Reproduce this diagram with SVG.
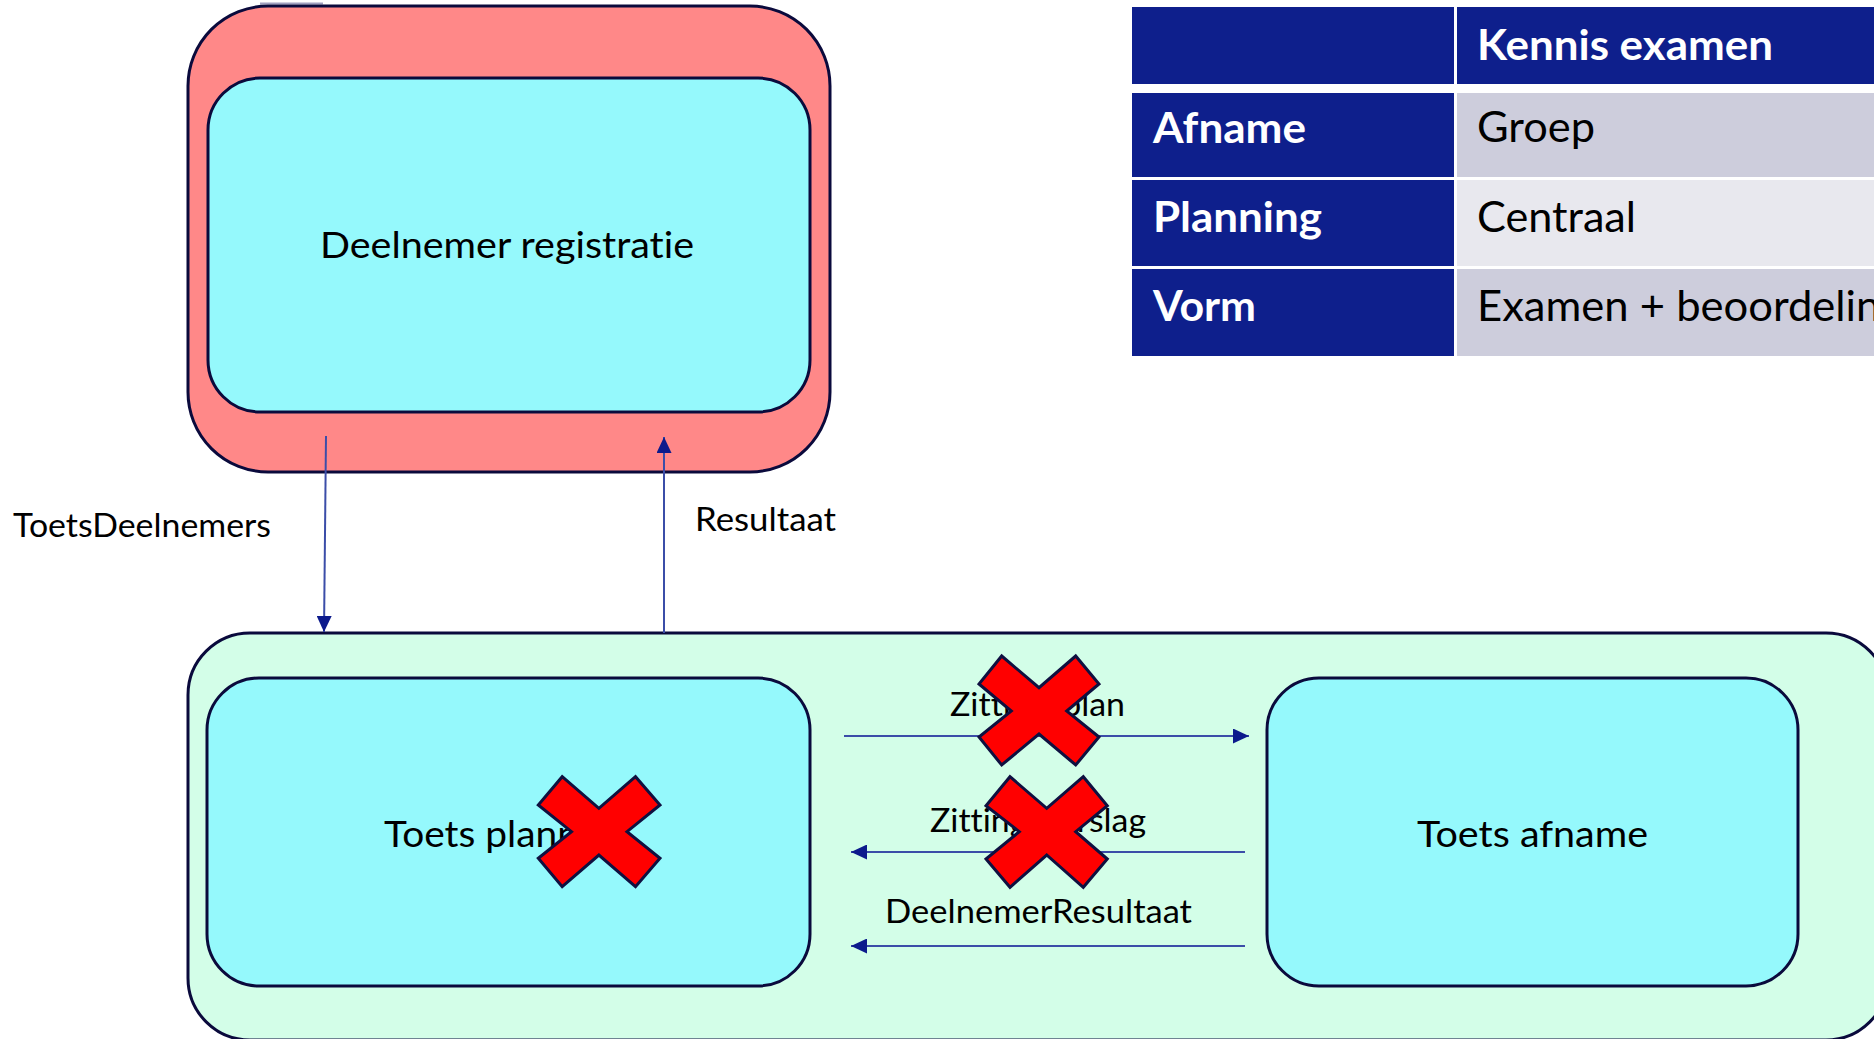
<svg xmlns="http://www.w3.org/2000/svg" width="1874" height="1039" viewBox="0 0 1874 1039">
<style>
text{font-variant-ligatures:none;font-feature-settings:"liga" 0,"clig" 0}
.outerR{fill:#FF8888;stroke:#0A0A3C;stroke-width:3}
.outerG{fill:#D3FEE8;stroke:#0A0A3C;stroke-width:3}
.inner{fill:#95F9FC;stroke:#0A0A3C;stroke-width:3}
.node{font-family:Lato,"Open Sans",sans-serif;font-size:36px;fill:#000}
.lbl{font-family:Lato,"Open Sans",sans-serif;font-size:32px;fill:#000}
.conn{stroke:#3B4DA8;stroke-width:2;fill:none}
.cross{fill:#FF0000;stroke:#0F1040;stroke-width:3;stroke-linejoin:miter}
.th{fill:#0E1F8C}
.tb{font-family:Lato,"Open Sans",sans-serif;font-size:42px;font-weight:bold;fill:#fff}
.tr{font-family:Lato,"Open Sans",sans-serif;font-size:42px;fill:#000}
</style>
<defs>
<marker id="ah" viewBox="0 0 16 15" refX="16" refY="7.5" markerWidth="16" markerHeight="15" markerUnits="userSpaceOnUse" orient="auto">
<path d="M0,0 L16,7.5 L0,15 Z" fill="#0C1A8C"/>
</marker>
</defs>
<rect width="1874" height="1039" fill="#fff"/>
<line x1="260" y1="3.5" x2="323" y2="3.5" stroke="#A0A0C0" stroke-width="2"/>

<g id="deelnemer-registratie-container">
<rect class="outerR" x="188" y="6" width="642" height="466" rx="80" ry="80"/>
</g>
<g id="deelnemer-registratie">
<rect class="inner" x="208" y="78" width="602" height="334" rx="52" ry="52"/>
<text class="node" x="320" y="258" textLength="374" lengthAdjust="spacingAndGlyphs">Deelnemer registratie</text>
</g>

<g id="toets-container">
<rect class="outerG" x="188" y="633" width="1700" height="407" rx="62" ry="62"/>
</g>
<g id="toets-planning">
<rect class="inner" x="207" y="678" width="603" height="308" rx="52" ry="52"/>
<text class="node" x="384" y="847" textLength="246" lengthAdjust="spacingAndGlyphs">Toets planning</text>
</g>
<g id="toets-afname">
<rect class="inner" x="1267" y="678" width="531" height="308" rx="52" ry="52"/>
<text class="node" x="1417" y="847" textLength="231" lengthAdjust="spacingAndGlyphs">Toets afname</text>
</g>

<g id="connectors">
<line class="conn" x1="326" y1="436" x2="324" y2="632" marker-end="url(#ah)"/>
<line class="conn" x1="664" y1="633" x2="664" y2="437" marker-end="url(#ah)"/>
<line class="conn" x1="844" y1="736" x2="1249" y2="736" marker-end="url(#ah)"/>
<line class="conn" x1="1245" y1="852" x2="851" y2="852" marker-end="url(#ah)"/>
<line class="conn" x1="1245" y1="946" x2="851" y2="946" marker-end="url(#ah)"/>
<text class="lbl" x="13" y="537" textLength="258" lengthAdjust="spacingAndGlyphs">ToetsDeelnemers</text>
<text class="lbl" x="695" y="531" textLength="141" lengthAdjust="spacingAndGlyphs">Resultaat</text>
<text class="lbl" x="950" y="716" textLength="175" lengthAdjust="spacingAndGlyphs">Zittingsplan</text>
<text class="lbl" x="930" y="832" textLength="216" lengthAdjust="spacingAndGlyphs">Zittingsverslag</text>
<text class="lbl" x="885" y="923" textLength="307" lengthAdjust="spacingAndGlyphs">DeelnemerResultaat</text>
</g>

<g id="crosses">
<polygon class="cross" points="1001.7,656 1039,687.7 1075.7,656 1099,684 1066.7,711 1099,737 1075.7,765 1039,734 1001.7,765 979,737 1011.3,711 979,684"/>
<polygon class="cross" points="1010,776.7 1046.7,808.3 1083.3,776.7 1107.3,805.7 1075.7,831.7 1107.3,859 1083.3,887.3 1046.7,855 1010,887.3 986,859 1019.3,831.7 986,805.7"/>
<polygon class="cross" points="562.2,776.7 598.9,808.3 635.5,776.7 660,805 627,831.7 660,858.3 635.5,886.7 598.9,855 562.2,886.7 538.3,858.3 571.5,831.7 538.3,805"/>
</g>

<g id="table">
<rect class="th" x="1132" y="7" width="322" height="77"/>
<rect class="th" x="1457" y="7" width="417" height="77"/>
<rect class="th" x="1132" y="93" width="322" height="84"/>
<rect x="1457" y="93" width="417" height="84" fill="#CDCDDC"/>
<rect class="th" x="1132" y="180" width="322" height="86"/>
<rect x="1457" y="180" width="417" height="86" fill="#E8E8EE"/>
<rect class="th" x="1132" y="269" width="322" height="87"/>
<rect x="1457" y="269" width="417" height="87" fill="#CDCDDC"/>
<text class="tb" x="1477" y="60" textLength="296" lengthAdjust="spacingAndGlyphs">Kennis examen</text>
<text class="tb" x="1153" y="143" textLength="153" lengthAdjust="spacingAndGlyphs">Afname</text>
<text class="tr" x="1477" y="142" textLength="118" lengthAdjust="spacingAndGlyphs">Groep</text>
<text class="tb" x="1153" y="232" textLength="169" lengthAdjust="spacingAndGlyphs">Planning</text>
<text class="tr" x="1477" y="232" textLength="159" lengthAdjust="spacingAndGlyphs">Centraal</text>
<text class="tb" x="1153" y="321" textLength="103" lengthAdjust="spacingAndGlyphs">Vorm</text>
<text class="tr" x="1477" y="321" textLength="426" lengthAdjust="spacingAndGlyphs">Examen + beoordeling</text>
</g>
</svg>
